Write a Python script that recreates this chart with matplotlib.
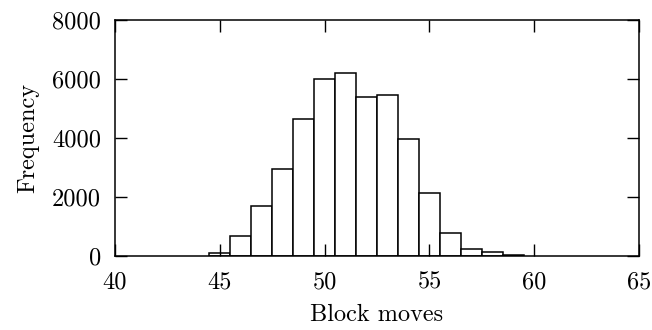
import matplotlib
matplotlib.use("Agg")
import matplotlib.pyplot as plt

moves = [45, 46, 47, 48, 49, 50, 51, 52, 53, 54, 55, 56, 57, 58, 59]
freq = [90, 660, 1690, 2950, 4650, 5980, 6190, 5370, 5460, 3970, 2130, 760, 230, 110, 25]
xticks = [40, 45, 50, 55, 60, 65]
yticks = [0, 2000, 4000, 6000, 8000]

plt.rcParams['font.family'] = 'cmr10'
plt.rcParams['mathtext.fontset'] = 'cm'
plt.rcParams['axes.formatter.use_mathtext'] = True

fig = plt.figure(figsize=(6.52, 3.30), dpi=100)
ax = fig.add_axes([115/652, 1-255.6/330, (639-115)/652, (255.6-20)/330])

ax.bar(moves, freq, width=1.0, facecolor='white', edgecolor='black', linewidth=1.1)

ax.set_xlim(40, 65)
ax.set_ylim(0, 8000)
ax.set_xticks(xticks)
ax.set_yticks(yticks)
ax.set_xticklabels([str(t) for t in xticks])
ax.set_yticklabels([str(t) for t in yticks])
ax.tick_params(direction='in', length=8.5, width=1.0, top=True, right=True,
               labelsize=17.5, colors='black')
ax.tick_params(axis='x', pad=11)
ax.tick_params(axis='y', pad=10)
for s in ax.spines.values():
    s.set_linewidth(1.1)
ax.set_xlabel('Block moves', fontsize=17.5, labelpad=8)
ax.set_ylabel('Frequency', fontsize=17.5, labelpad=9)

fig.savefig('out.png', dpi=100)
